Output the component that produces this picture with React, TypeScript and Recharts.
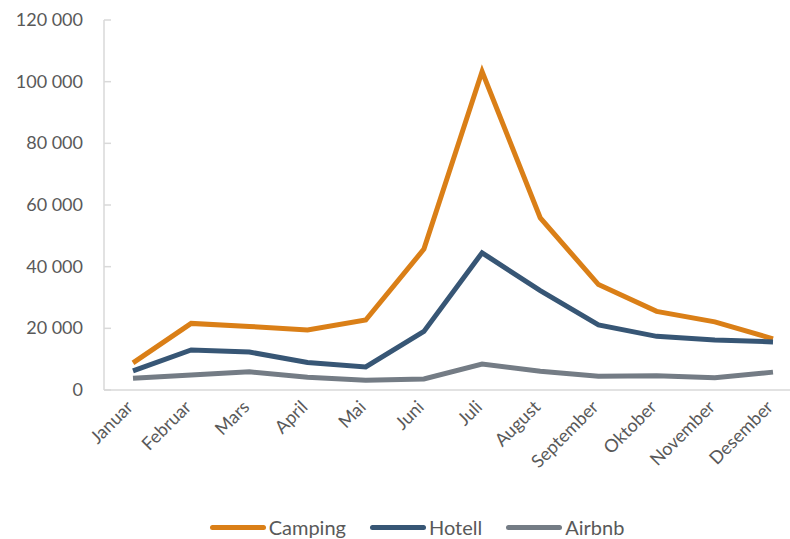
import { LineChart, Line, XAxis, YAxis, Legend } from 'recharts'

const months = ['Januar', 'Februar', 'Mars', 'April', 'Mai', 'Juni', 'Juli', 'August', 'September', 'Oktober', 'November', 'Desember']
const camping = [8800, 21600, 20600, 19500, 22700, 45700, 103300, 55800, 34200, 25500, 22100, 16600]
const hotell = [6200, 13000, 12300, 8900, 7500, 19000, 44500, 32200, 21100, 17400, 16200, 15600]
const airbnb = [3800, 4900, 5900, 4100, 3200, 3600, 8400, 6100, 4500, 4600, 4000, 5800]
const yTicks = [0, 20000, 40000, 60000, 80000, 100000, 120000]

const SERIES = [
  { key: 'camping', name: 'Camping', color: '#DA7F17' },
  { key: 'hotell', name: 'Hotell', color: '#375675' },
  { key: 'airbnb', name: 'Airbnb', color: '#747C85' },
]

const data = months.map((m, i) => ({
  month: m,
  camping: camping[i],
  hotell: hotell[i],
  airbnb: airbnb[i],
}))

const FONT = 'Lato, "Open Sans", sans-serif'
const TEXT = '#595959'
const AXIS = '#d9d9d9'

function fmt(v: number): string {
  return v.toLocaleString('en-US').replace(/,/g, ' ')
}

function YTick(props: any) {
  const { x, y, payload } = props
  return (
    <g>
      <line x1={x} y1={y} x2={x + 7} y2={y} stroke={AXIS} strokeWidth={1.5} />
      <text x={x - 21} y={y} dy={6} textAnchor="end" fill={TEXT} fontSize={18} fontFamily={FONT}>
        {fmt(payload.value)}
      </text>
    </g>
  )
}

function XTick(props: any) {
  const { x, y, payload } = props
  const tx = x - 3
  const ty = y + 8
  return (
    <text
      x={tx}
      y={ty}
      transform={`rotate(-45 ${tx} ${ty})`}
      textAnchor="end"
      dy={6}
      fill={TEXT}
      fontSize={18}
      fontFamily={FONT}
    >
      {payload.value}
    </text>
  )
}

function LegendContent() {
  return (
    <div style={{ display: 'flex', justifyContent: 'center', paddingLeft: 44, gap: 24, fontFamily: FONT, lineHeight: '24px', height: 24 }}>
      {SERIES.map(s => (
        <div key={s.key} style={{ display: 'flex', alignItems: 'center', gap: 3 }}>
          <span style={{ display: 'inline-block', width: 56, height: 5, borderRadius: 3, background: s.color }} />
          <span style={{ fontSize: 20, color: TEXT }}>{s.name}</span>
        </div>
      ))}
    </div>
  )
}

export default function App() {
  return (
    <div style={{ position: 'absolute', top: 0, left: 0, width: 790, height: 539, background: '#fff' }}>
      <LineChart width={790} height={539} data={data} margin={{ top: 20, right: 0, left: 0, bottom: 0 }}>
        <XAxis
          dataKey="month"
          stroke={AXIS}
          strokeWidth={1.5}
          tickLine={false}
          tick={<XTick />}
          tickMargin={0}
          interval={0}
          height={125}
          padding={{ left: 29, right: 17 }}
        />
        <YAxis
          ticks={yTicks}
          domain={[0, 120000]}
          stroke={AXIS}
          strokeWidth={1.5}
          tickSize={0}
          tickMargin={0}
          tick={<YTick />}
          width={104}
          interval={0}
        />
        <Legend verticalAlign="bottom" height={24} content={<LegendContent />} />
        {SERIES.map(s => (
          <Line
            key={s.key}
            type="linear"
            dataKey={s.key}
            name={s.name}
            stroke={s.color}
            strokeWidth={5}
            dot={false}
            isAnimationActive={false}
          />
        ))}
      </LineChart>
    </div>
  )
}
